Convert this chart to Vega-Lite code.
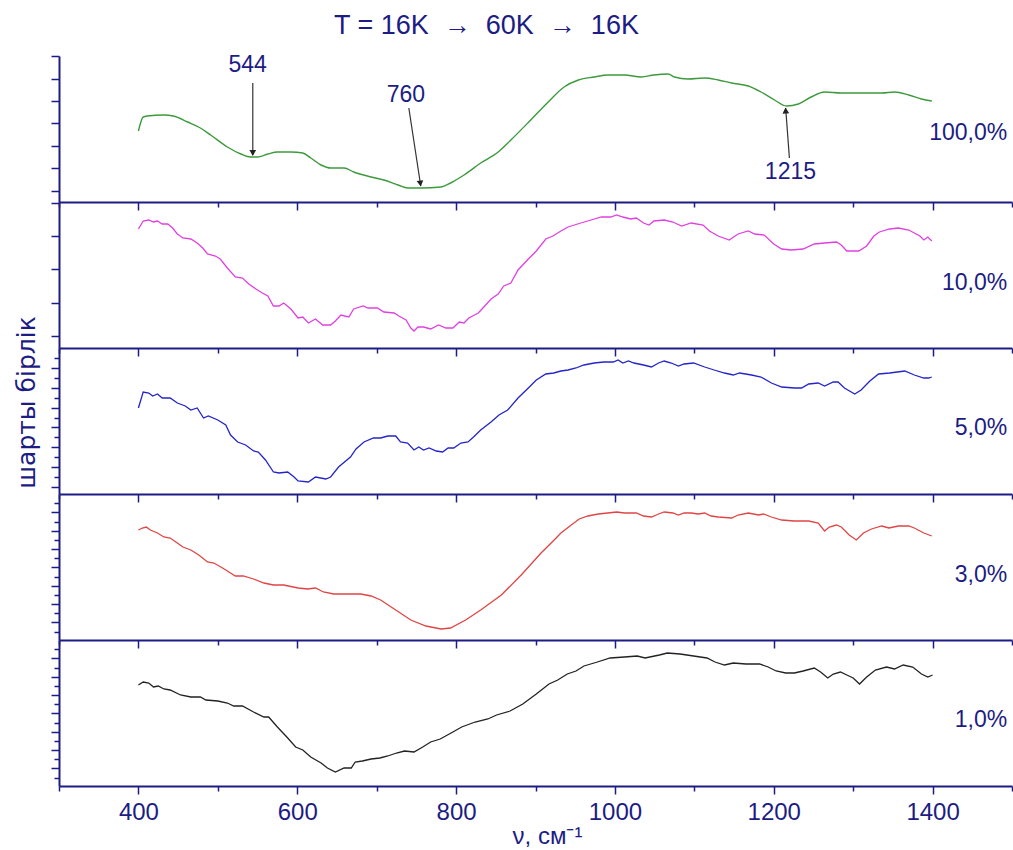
{
  "$schema": "https://vega.github.io/schema/vega-lite/v6.json",
  "background": "white",
  "padding": {"left": 13, "top": 12, "right": 0, "bottom": 0},
  "bounds": "flush",
  "spacing": 0,
  "title": {"text": "T = 16K \u00a0→\u00a0 60K \u00a0→\u00a0 16K", "fontSize": 27, "font": "Liberation Sans", "fontWeight": "normal", "color": "#1c1c84", "anchor": "start", "dx": 320, "offset": 14},
  "config": {
    "view": {"stroke": null},
    "font": "Liberation Sans",
    "axis": {"domainColor": "#1c1c84", "tickColor": "#1c1c84", "domainWidth": 2, "tickWidth": 1.5, "grid": false, "labelColor": "#1c1c84", "titleColor": "#1c1c84", "titleFontWeight": "normal"},
    "concat": {"spacing": 0}
  },
  "datasets": {
    "p100": [{"nu":400,"a":71},{"nu":406,"a":85},{"nu":411,"a":86},{"nu":432,"a":87},{"nu":444,"a":86},{"nu":462,"a":80},{"nu":478,"a":74},{"nu":491,"a":67},{"nu":512,"a":55},{"nu":529,"a":48},{"nu":541,"a":45},{"nu":550,"a":45},{"nu":563,"a":48},{"nu":575,"a":50},{"nu":592,"a":50},{"nu":607,"a":49},{"nu":617,"a":44},{"nu":630,"a":37},{"nu":642,"a":34},{"nu":659,"a":34},{"nu":671,"a":30},{"nu":693,"a":25},{"nu":709,"a":22},{"nu":727,"a":17},{"nu":739,"a":14},{"nu":756,"a":14},{"nu":781,"a":15},{"nu":793,"a":19},{"nu":810,"a":27},{"nu":831,"a":39},{"nu":853,"a":50},{"nu":869,"a":62},{"nu":894,"a":82},{"nu":916,"a":100},{"nu":936,"a":115},{"nu":954,"a":122},{"nu":974,"a":125},{"nu":991,"a":127},{"nu":1012,"a":127},{"nu":1033,"a":125},{"nu":1049,"a":127},{"nu":1067,"a":128},{"nu":1075,"a":125},{"nu":1092,"a":123},{"nu":1113,"a":124},{"nu":1130,"a":122},{"nu":1147,"a":119},{"nu":1168,"a":116},{"nu":1184,"a":110},{"nu":1201,"a":102},{"nu":1216,"a":96},{"nu":1231,"a":98},{"nu":1247,"a":105},{"nu":1264,"a":110},{"nu":1285,"a":109},{"nu":1310,"a":109},{"nu":1336,"a":109},{"nu":1352,"a":110},{"nu":1370,"a":107},{"nu":1386,"a":103},{"nu":1399,"a":101}],
    "p10": [{"nu":400,"a":119},{"nu":406,"a":127},{"nu":413,"a":128},{"nu":419,"a":126},{"nu":424,"a":127},{"nu":430,"a":124},{"nu":437,"a":124},{"nu":443,"a":120},{"nu":449,"a":114},{"nu":456,"a":110},{"nu":466,"a":109},{"nu":474,"a":105},{"nu":481,"a":100},{"nu":487,"a":94},{"nu":497,"a":92},{"nu":503,"a":89},{"nu":512,"a":80},{"nu":522,"a":71},{"nu":531,"a":70},{"nu":539,"a":64},{"nu":548,"a":59},{"nu":556,"a":55},{"nu":563,"a":52},{"nu":570,"a":42},{"nu":577,"a":42},{"nu":583,"a":45},{"nu":592,"a":39},{"nu":601,"a":30},{"nu":607,"a":31},{"nu":614,"a":25},{"nu":623,"a":29},{"nu":632,"a":23},{"nu":642,"a":23},{"nu":648,"a":27},{"nu":655,"a":33},{"nu":665,"a":31},{"nu":671,"a":39},{"nu":683,"a":42},{"nu":689,"a":40},{"nu":701,"a":40},{"nu":709,"a":36},{"nu":722,"a":35},{"nu":728,"a":32},{"nu":737,"a":28},{"nu":743,"a":20},{"nu":747,"a":17},{"nu":752,"a":21},{"nu":759,"a":21},{"nu":768,"a":19},{"nu":778,"a":23},{"nu":787,"a":20},{"nu":796,"a":20},{"nu":804,"a":26},{"nu":810,"a":25},{"nu":816,"a":30},{"nu":828,"a":35},{"nu":835,"a":41},{"nu":844,"a":49},{"nu":853,"a":54},{"nu":860,"a":62},{"nu":869,"a":65},{"nu":878,"a":78},{"nu":891,"a":89},{"nu":901,"a":97},{"nu":913,"a":109},{"nu":922,"a":112},{"nu":932,"a":117},{"nu":941,"a":121},{"nu":945,"a":122},{"nu":957,"a":125},{"nu":970,"a":128},{"nu":983,"a":131},{"nu":995,"a":131},{"nu":1002,"a":133},{"nu":1010,"a":131},{"nu":1020,"a":129},{"nu":1027,"a":130},{"nu":1036,"a":125},{"nu":1043,"a":123},{"nu":1049,"a":127},{"nu":1062,"a":128},{"nu":1073,"a":126},{"nu":1084,"a":122},{"nu":1096,"a":125},{"nu":1111,"a":123},{"nu":1119,"a":117},{"nu":1130,"a":112},{"nu":1144,"a":108},{"nu":1155,"a":114},{"nu":1168,"a":117},{"nu":1176,"a":114},{"nu":1188,"a":113},{"nu":1200,"a":104},{"nu":1210,"a":99},{"nu":1222,"a":98},{"nu":1237,"a":99},{"nu":1251,"a":104},{"nu":1264,"a":105},{"nu":1279,"a":106},{"nu":1285,"a":103},{"nu":1292,"a":97},{"nu":1307,"a":97},{"nu":1317,"a":102},{"nu":1326,"a":112},{"nu":1333,"a":116},{"nu":1346,"a":119},{"nu":1357,"a":120},{"nu":1370,"a":118},{"nu":1377,"a":115},{"nu":1384,"a":112},{"nu":1389,"a":108},{"nu":1394,"a":111},{"nu":1399,"a":107}],
    "p5": [{"nu":400,"a":86},{"nu":406,"a":102},{"nu":413,"a":101},{"nu":418,"a":98},{"nu":424,"a":100},{"nu":430,"a":96},{"nu":440,"a":96},{"nu":449,"a":91},{"nu":459,"a":88},{"nu":466,"a":84},{"nu":474,"a":86},{"nu":482,"a":76},{"nu":488,"a":78},{"nu":500,"a":74},{"nu":510,"a":69},{"nu":516,"a":59},{"nu":525,"a":52},{"nu":535,"a":49},{"nu":545,"a":43},{"nu":551,"a":42},{"nu":560,"a":34},{"nu":570,"a":22},{"nu":577,"a":21},{"nu":588,"a":22},{"nu":596,"a":17},{"nu":601,"a":13},{"nu":614,"a":12},{"nu":623,"a":17},{"nu":636,"a":15},{"nu":642,"a":17},{"nu":652,"a":27},{"nu":667,"a":37},{"nu":674,"a":45},{"nu":684,"a":52},{"nu":696,"a":56},{"nu":705,"a":56},{"nu":714,"a":58},{"nu":724,"a":58},{"nu":730,"a":52},{"nu":739,"a":51},{"nu":747,"a":44},{"nu":753,"a":47},{"nu":759,"a":44},{"nu":766,"a":46},{"nu":775,"a":43},{"nu":783,"a":42},{"nu":790,"a":46},{"nu":797,"a":46},{"nu":806,"a":51},{"nu":815,"a":52},{"nu":822,"a":57},{"nu":831,"a":64},{"nu":844,"a":72},{"nu":854,"a":79},{"nu":865,"a":84},{"nu":878,"a":96},{"nu":891,"a":106},{"nu":901,"a":114},{"nu":913,"a":120},{"nu":923,"a":121},{"nu":932,"a":123},{"nu":941,"a":124},{"nu":951,"a":126},{"nu":961,"a":129},{"nu":974,"a":131},{"nu":986,"a":132},{"nu":998,"a":132},{"nu":1004,"a":134},{"nu":1010,"a":131},{"nu":1017,"a":133},{"nu":1024,"a":131},{"nu":1036,"a":129},{"nu":1046,"a":127},{"nu":1055,"a":131},{"nu":1062,"a":133},{"nu":1071,"a":131},{"nu":1080,"a":128},{"nu":1087,"a":130},{"nu":1099,"a":131},{"nu":1113,"a":127},{"nu":1125,"a":124},{"nu":1138,"a":121},{"nu":1149,"a":119},{"nu":1157,"a":121},{"nu":1172,"a":119},{"nu":1184,"a":117},{"nu":1197,"a":111},{"nu":1210,"a":107},{"nu":1226,"a":106},{"nu":1235,"a":106},{"nu":1244,"a":110},{"nu":1256,"a":111},{"nu":1264,"a":108},{"nu":1275,"a":112},{"nu":1281,"a":112},{"nu":1289,"a":106},{"nu":1302,"a":100},{"nu":1310,"a":104},{"nu":1321,"a":113},{"nu":1332,"a":120},{"nu":1346,"a":121},{"nu":1365,"a":123},{"nu":1377,"a":119},{"nu":1389,"a":116},{"nu":1395,"a":116},{"nu":1399,"a":117}],
    "p3": [{"nu":400,"a":110},{"nu":405,"a":112},{"nu":410,"a":113},{"nu":415,"a":110},{"nu":424,"a":107},{"nu":432,"a":103},{"nu":440,"a":102},{"nu":449,"a":97},{"nu":456,"a":93},{"nu":466,"a":90},{"nu":476,"a":85},{"nu":487,"a":78},{"nu":495,"a":77},{"nu":506,"a":72},{"nu":516,"a":67},{"nu":522,"a":64},{"nu":532,"a":64},{"nu":545,"a":61},{"nu":558,"a":57},{"nu":570,"a":55},{"nu":583,"a":55},{"nu":601,"a":52},{"nu":613,"a":51},{"nu":623,"a":52},{"nu":633,"a":48},{"nu":646,"a":46},{"nu":661,"a":46},{"nu":680,"a":46},{"nu":693,"a":44},{"nu":705,"a":40},{"nu":724,"a":30},{"nu":743,"a":20},{"nu":762,"a":14},{"nu":781,"a":11},{"nu":793,"a":12},{"nu":812,"a":20},{"nu":831,"a":30},{"nu":857,"a":45},{"nu":882,"a":65},{"nu":907,"a":87},{"nu":926,"a":102},{"nu":932,"a":107},{"nu":945,"a":115},{"nu":955,"a":121},{"nu":966,"a":124},{"nu":979,"a":126},{"nu":991,"a":127},{"nu":1002,"a":128},{"nu":1012,"a":127},{"nu":1020,"a":127},{"nu":1027,"a":127},{"nu":1036,"a":124},{"nu":1046,"a":123},{"nu":1055,"a":126},{"nu":1062,"a":128},{"nu":1073,"a":127},{"nu":1080,"a":125},{"nu":1087,"a":127},{"nu":1096,"a":127},{"nu":1105,"a":126},{"nu":1113,"a":127},{"nu":1121,"a":124},{"nu":1130,"a":123},{"nu":1147,"a":122},{"nu":1155,"a":125},{"nu":1168,"a":127},{"nu":1181,"a":125},{"nu":1187,"a":126},{"nu":1197,"a":123},{"nu":1210,"a":120},{"nu":1226,"a":119},{"nu":1244,"a":119},{"nu":1256,"a":117},{"nu":1264,"a":109},{"nu":1270,"a":113},{"nu":1279,"a":115},{"nu":1285,"a":113},{"nu":1295,"a":105},{"nu":1304,"a":100},{"nu":1313,"a":107},{"nu":1323,"a":111},{"nu":1336,"a":114},{"nu":1345,"a":112},{"nu":1357,"a":114},{"nu":1370,"a":114},{"nu":1377,"a":112},{"nu":1389,"a":107},{"nu":1399,"a":104}],
    "p1": [{"nu":400,"a":101},{"nu":406,"a":104},{"nu":413,"a":103},{"nu":419,"a":99},{"nu":425,"a":100},{"nu":432,"a":97},{"nu":440,"a":96},{"nu":453,"a":91},{"nu":466,"a":89},{"nu":478,"a":89},{"nu":485,"a":86},{"nu":500,"a":85},{"nu":512,"a":83},{"nu":520,"a":80},{"nu":531,"a":80},{"nu":545,"a":74},{"nu":558,"a":69},{"nu":564,"a":69},{"nu":575,"a":59},{"nu":588,"a":48},{"nu":598,"a":39},{"nu":607,"a":36},{"nu":617,"a":29},{"nu":630,"a":23},{"nu":638,"a":18},{"nu":648,"a":14},{"nu":659,"a":18},{"nu":668,"a":18},{"nu":673,"a":24},{"nu":682,"a":25},{"nu":693,"a":27},{"nu":704,"a":28},{"nu":714,"a":30},{"nu":725,"a":33},{"nu":735,"a":35},{"nu":747,"a":34},{"nu":758,"a":39},{"nu":768,"a":44},{"nu":780,"a":47},{"nu":796,"a":54},{"nu":807,"a":59},{"nu":824,"a":64},{"nu":840,"a":67},{"nu":851,"a":71},{"nu":868,"a":75},{"nu":884,"a":82},{"nu":901,"a":92},{"nu":917,"a":102},{"nu":928,"a":106},{"nu":940,"a":112},{"nu":951,"a":115},{"nu":961,"a":120},{"nu":978,"a":124},{"nu":994,"a":128},{"nu":1012,"a":129},{"nu":1028,"a":130},{"nu":1038,"a":128},{"nu":1056,"a":131},{"nu":1066,"a":133},{"nu":1082,"a":132},{"nu":1099,"a":130},{"nu":1116,"a":128},{"nu":1126,"a":124},{"nu":1138,"a":121},{"nu":1149,"a":123},{"nu":1165,"a":122},{"nu":1182,"a":122},{"nu":1193,"a":119},{"nu":1203,"a":115},{"nu":1215,"a":113},{"nu":1226,"a":113},{"nu":1237,"a":115},{"nu":1251,"a":118},{"nu":1259,"a":114},{"nu":1268,"a":108},{"nu":1275,"a":112},{"nu":1284,"a":114},{"nu":1292,"a":111},{"nu":1300,"a":108},{"nu":1308,"a":102},{"nu":1317,"a":109},{"nu":1328,"a":116},{"nu":1342,"a":119},{"nu":1352,"a":117},{"nu":1363,"a":121},{"nu":1375,"a":119},{"nu":1386,"a":112},{"nu":1394,"a":109},{"nu":1400,"a":111}],
    "tags": [{"s":"100,0%","nu":1494,"a":69},{"s":"10,0%","nu":1494,"a":65},{"s":"5,0%","nu":1494,"a":66},{"s":"3,0%","nu":1494,"a":65},{"s":"1,0%","nu":1494,"a":66}],
    "peaks": [{"label":"544","nu":537.5,"a":137},{"label":"760","nu":736.7,"a":107},{"label":"1215","nu":1221,"a":30}],
    "arrows": [{"peak":"544","nu":544,"a":119,"nu2":544,"a2":47},{"peak":"760","nu":740.5,"a":94,"nu2":755.5,"a2":16},{"peak":"1215","nu":1219.7,"a":44,"nu2":1215,"a2":94}],
    "heads": [{"peak":"544","nu":544,"a":49},{"peak":"760","nu":755,"a":18.5},{"peak":"1215","nu":1215,"a":91.5}]
  },
  "vconcat": [
    {
      "width": 953, "height": 146,
      "encoding": {
        "x": {"field": "nu", "type": "quantitative", "scale": {"domain": [300, 1500], "nice": false, "zero": false},
              "axis": {"values": [300,400,500,600,700,800,900,1000,1100,1200,1300,1400,1500], "labels": false, "title": null, "tickSize": {"condition": {"test": "datum.value % 200 == 0", "value": 8}, "value": 5}}},
        "y": {"field": "a", "type": "quantitative", "scale": {"domain": [0, 146], "nice": false, "zero": false},
              "axis": {"values": [11,34,56,79,101,123,146], "labels": false, "title": null, "tickSize": 8}}
      },
      "layer": [
        {"data": {"name": "p100"}, "mark": {"type": "line", "color": "#3c9a3c", "strokeWidth": 1.4, "interpolate": "monotone"}},
        {"data": {"name": "arrows"}, "mark": {"type": "rule", "color": "#333333", "strokeWidth": 1.2}, "encoding": {"x2": {"field": "nu2"}, "y2": {"field": "a2"}}},
        {"data": {"name": "heads"}, "transform": [{"filter": "datum.peak == '544'"}], "mark": {"type": "point", "shape": "triangle-down", "filled": true, "color": "#222222", "size": 45, "opacity": 1}},
        {"data": {"name": "heads"}, "transform": [{"filter": "datum.peak == '760'"}], "mark": {"type": "point", "shape": "triangle-down", "angle": -8, "filled": true, "color": "#222222", "size": 45, "opacity": 1}},
        {"data": {"name": "heads"}, "transform": [{"filter": "datum.peak == '1215'"}], "mark": {"type": "point", "shape": "triangle-up", "angle": -4, "filled": true, "color": "#222222", "size": 45, "opacity": 1}},
        {"data": {"name": "peaks"}, "mark": {"type": "text", "fontSize": 23, "color": "#1c1c84", "baseline": "middle", "align": "center"}, "encoding": {"text": {"field": "label"}}},
        {"data": {"name": "tags"}, "transform": [{"filter": "datum.s == '100,0%'"}], "mark": {"type": "text", "fontSize": 23, "color": "#1c1c84", "baseline": "middle", "align": "right"}, "encoding": {"text": {"field": "s"}}}
      ]
    },
    {
      "width": 953, "height": 146,
      "encoding": {
        "x": {"field": "nu", "type": "quantitative", "scale": {"domain": [300, 1500], "nice": false, "zero": false},
              "axis": {"values": [300,400,500,600,700,800,900,1000,1100,1200,1300,1400,1500], "labels": false, "title": null, "tickSize": {"condition": {"test": "datum.value % 200 == 0", "value": 8}, "value": 5}}},
        "y": {"field": "a", "type": "quantitative", "scale": {"domain": [0, 146], "nice": false, "zero": false},
              "axis": {"values": [12,45,79,112,145], "labels": false, "title": null, "tickSize": 8}}
      },
      "layer": [
        {"data": {"name": "p10"}, "mark": {"type": "line", "color": "#e040e0", "strokeWidth": 1.3}},
        {"data": {"name": "tags"}, "transform": [{"filter": "datum.s == '10,0%'"}], "mark": {"type": "text", "fontSize": 23, "color": "#1c1c84", "baseline": "middle", "align": "right"}, "encoding": {"text": {"field": "s"}}}
      ]
    },
    {
      "width": 953, "height": 146,
      "encoding": {
        "x": {"field": "nu", "type": "quantitative", "scale": {"domain": [300, 1500], "nice": false, "zero": false},
              "axis": {"values": [300,400,500,600,700,800,900,1000,1100,1200,1300,1400,1500], "labels": false, "title": null, "tickSize": {"condition": {"test": "datum.value % 200 == 0", "value": 8}, "value": 5}}},
        "y": {"field": "a", "type": "quantitative", "scale": {"domain": [0, 146], "nice": false, "zero": false},
              "axis": {"values": [7,17,27,37,47,57,67,76,86,96,106,116,126,136], "labels": false, "title": "шарты бірлік", "titleFont": "DejaVu Sans", "titleFontSize": 25, "titleX": -33, "titleY": 54, "titleAlign": "center", "titleBaseline": "middle", "titleAngle": 270,
                       "tickSize": {"condition": {"test": "indexof([7,27,47,67,86,106,126], datum.value) >= 0", "value": 8}, "value": 5}}}
      },
      "layer": [
        {"data": {"name": "p5"}, "mark": {"type": "line", "color": "#2424c8", "strokeWidth": 1.3}},
        {"data": {"name": "tags"}, "transform": [{"filter": "datum.s == '5,0%'"}], "mark": {"type": "text", "fontSize": 23, "color": "#1c1c84", "baseline": "middle", "align": "right"}, "encoding": {"text": {"field": "s"}}}
      ]
    },
    {
      "width": 953, "height": 146,
      "encoding": {
        "x": {"field": "nu", "type": "quantitative", "scale": {"domain": [300, 1500], "nice": false, "zero": false},
              "axis": {"values": [300,400,500,600,700,800,900,1000,1100,1200,1300,1400,1500], "labels": false, "title": null, "tickSize": {"condition": {"test": "datum.value % 200 == 0", "value": 8}, "value": 5}}},
        "y": {"field": "a", "type": "quantitative", "scale": {"domain": [0, 146], "nice": false, "zero": false},
              "axis": {"values": [8,18,27,36,45,54,63,73,82,91,100,109,118,128,137], "labels": false, "title": null,
                       "tickSize": {"condition": {"test": "indexof([18,36,54,73,91,109,128], datum.value) >= 0", "value": 8}, "value": 5}}}
      },
      "layer": [
        {"data": {"name": "p3"}, "mark": {"type": "line", "color": "#e04444", "strokeWidth": 1.3}},
        {"data": {"name": "tags"}, "transform": [{"filter": "datum.s == '3,0%'"}], "mark": {"type": "text", "fontSize": 23, "color": "#1c1c84", "baseline": "middle", "align": "right"}, "encoding": {"text": {"field": "s"}}}
      ]
    },
    {
      "width": 953, "height": 146,
      "encoding": {
        "x": {"field": "nu", "type": "quantitative", "scale": {"domain": [300, 1500], "nice": false, "zero": false},
              "axis": {"values": [300,400,500,600,700,800,900,1000,1100,1200,1300,1400,1500], "format": "d", "labelExpr": "datum.value % 200 == 0 ? datum.label : ''", "labelFontSize": 24, "labelPadding": 6, "labelFlush": false, "labelOverlap": false,
                       "title": "ν, см⁻¹", "titleFontSize": 24, "titlePadding": 0, "titleX": 488,
                       "tickSize": {"condition": {"test": "datum.value % 200 == 0", "value": 8}, "value": 5}}},
        "y": {"field": "a", "type": "quantitative", "scale": {"domain": [0, 146], "nice": false, "zero": false},
              "axis": {"values": [8,18,27,36,45,54,63,73,82,91,100,109,118,128,137], "labels": false, "title": null,
                       "tickSize": {"condition": {"test": "indexof([18,36,54,73,91,109,128], datum.value) >= 0", "value": 8}, "value": 5}}}
      },
      "layer": [
        {"data": {"name": "p1"}, "mark": {"type": "line", "color": "#222222", "strokeWidth": 1.3}},
        {"data": {"name": "tags"}, "transform": [{"filter": "datum.s == '1,0%'"}], "mark": {"type": "text", "fontSize": 23, "color": "#1c1c84", "baseline": "middle", "align": "right"}, "encoding": {"text": {"field": "s"}}}
      ]
    }
  ]
}
